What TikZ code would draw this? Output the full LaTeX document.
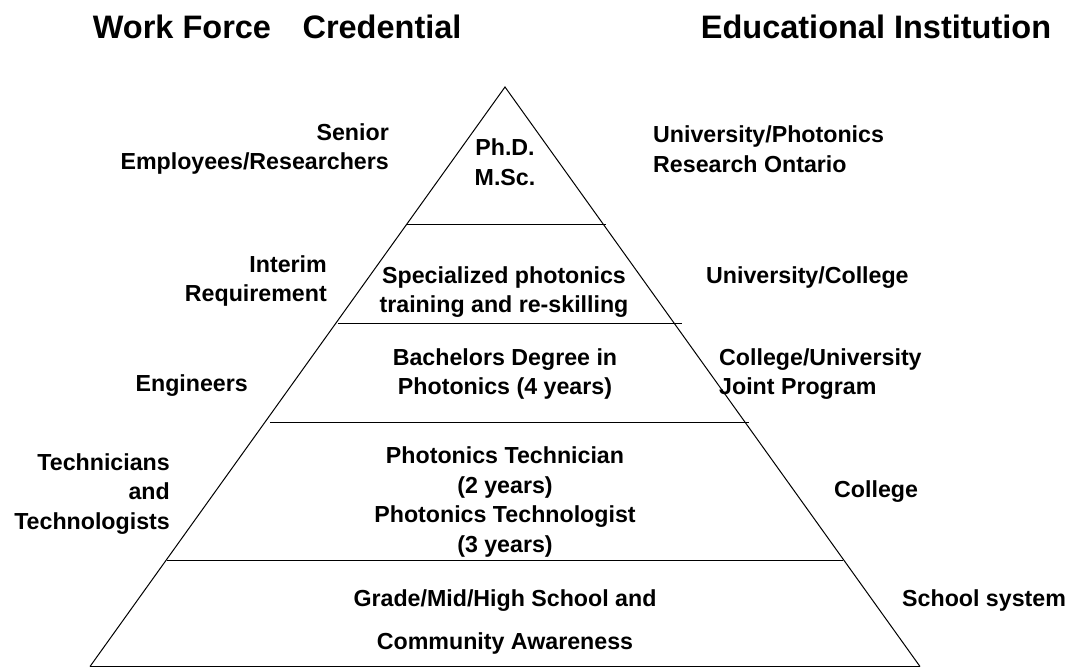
\documentclass[tikz,border=0pt]{standalone}
\usepackage{fontspec}
\setmainfont{Liberation Sans}
\usetikzlibrary{positioning}

\begin{document}
\begin{tikzpicture}[x=1pt, y=-1pt,
    header/.style={font=\fontsize{32.5}{38}\selectfont\bfseries, inner sep=0pt},
    level/.style={font=\fontsize{23.2}{29.5}\selectfont\bfseries, align=center, inner sep=0pt},
    workforce/.style={level, align=right, anchor=east},
    institution/.style={level, align=left, anchor=west},
    edge/.style={line width=1pt, black}
]
\useasboundingbox (0,0) rectangle (1076,668);

% column headers
\node[header] (workforce_label) at (182,27) {Work Force};
\node[header] (credential_label) at (382,27) {Credential};
\node[header] (institution_label) at (876,27) {Educational Institution};

% pyramid outline
\coordinate (apex) at (505,87);
\coordinate (baseL) at (90,666.5);
\coordinate (baseR) at (920,666.5);
\draw[edge] (baseL) -- (apex) -- (baseR);
\draw[edge] (baseL) -- (baseR);

% level separators
\coordinate (lvl1W) at (407,225);
\coordinate (lvl1E) at (606,225);
\coordinate (lvl2W) at (338,323);
\coordinate (lvl2E) at (682,323);
\coordinate (lvl3W) at (270,422);
\coordinate (lvl3E) at (749,422);
\coordinate (lvl4W) at (167,560);
\coordinate (lvl4E) at (843,560);
\draw[edge] (lvl1W) -- (lvl1E);
\draw[edge] (lvl2W) -- (lvl2E);
\draw[edge] (lvl3W) -- (lvl3E);
\draw[edge] (lvl4W) -- (lvl4E);

% credentials inside the pyramid
\node[level] (phd) at (505,162) {Ph.D.\\M.Sc.};
\node[level] (special) at (504,292) {Specialized photonics\\training and re-skilling};
\node[level] (bachelor) at (505,374) {Bachelors Degree in\\Photonics (4 years)};
\node[level] (technician) at (505,502) {Photonics Technician\\(2 years)\\Photonics Technologist\\(3 years)};
\node[level] (grade) at (505,601) {Grade/Mid/High School and};
\node[level] (community) at (505,643) {Community Awareness};

% work force labels
\node[workforce] (senior) at (389,149) {Senior\\Employees/Researchers};
\node[workforce] (interim) at (327,281) {Interim\\Requirement};
\node[workforce] (engineers) at (248,386) {Engineers};
\node[workforce] (technicians) at (170,494) {Technicians\\and\\Technologists};

% educational institution labels
\node[institution] (univphot) at (653,149) {University/Photonics\\Research Ontario};
\node[institution] (univcoll) at (706,278) {University/College};
\node[institution] (colluniv) at (719,374) {College/University\\Joint Program};
\node[institution] (college) at (834,492) {College};
\node[institution] (school) at (902,600) {School system};

\end{tikzpicture}
\end{document}
